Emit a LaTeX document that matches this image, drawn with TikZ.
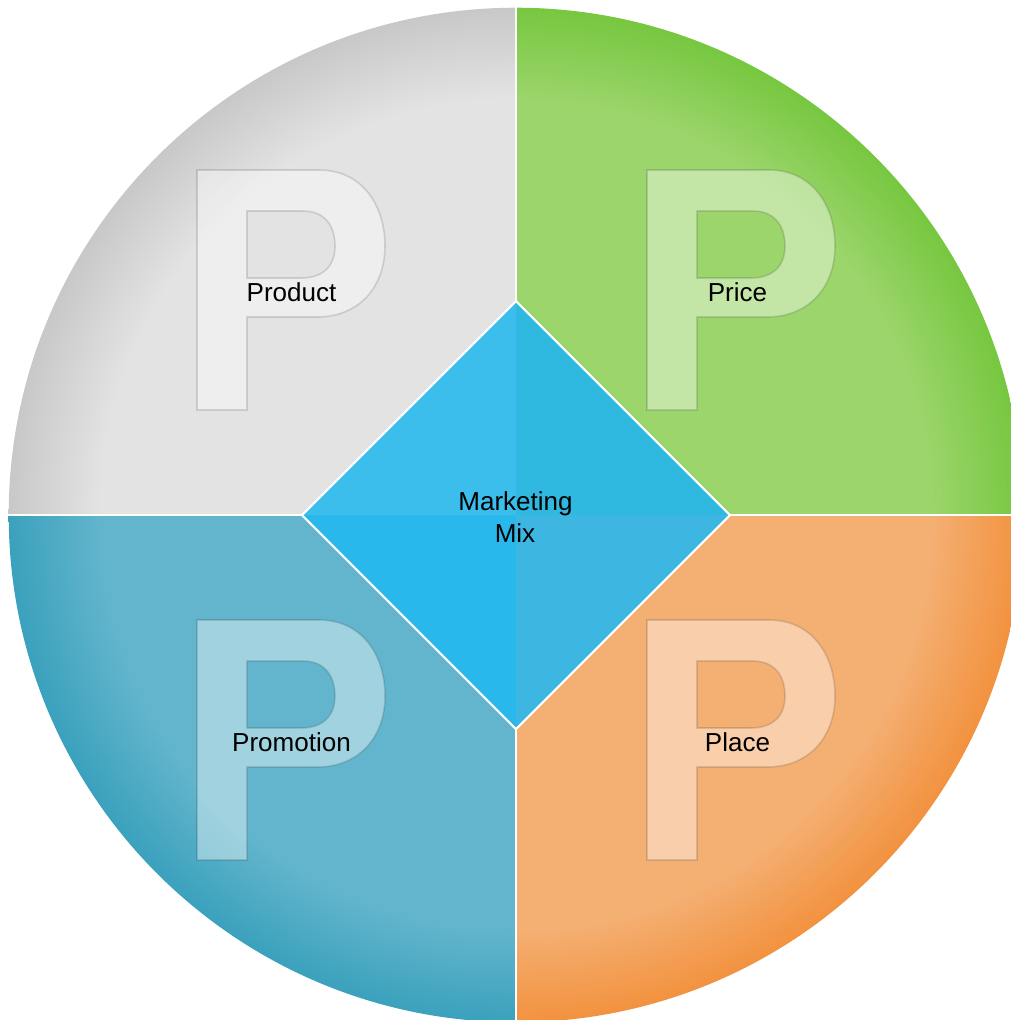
\documentclass[tikz,border=0pt]{standalone}
\usepackage{fontspec}
\setmainfont{Liberation Sans}
\definecolor{gin}{HTML}{E3E3E3}
\definecolor{gout}{HTML}{C8C8C8}
\definecolor{grin}{HTML}{9BD56B}
\definecolor{grout}{HTML}{77C740}
\definecolor{bin}{HTML}{62B5CC}
\definecolor{bout}{HTML}{3BA1BD}
\definecolor{oin}{HTML}{F4AF72}
\definecolor{oout}{HTML}{F2923F}
\definecolor{dtl}{HTML}{3BBEEC}
\definecolor{dtr}{HTML}{2FB9E1}
\definecolor{dbl}{HTML}{29B8EC}
\definecolor{dbr}{HTML}{3EB6E2}
\pgfdeclareradialshading{shgray}{\pgfpoint{0bp}{0bp}}{color(0bp)=(gin); color(20.5bp)=(gin); color(25bp)=(gout); color(50bp)=(gout)}
\pgfdeclareradialshading{shgreen}{\pgfpoint{0bp}{0bp}}{color(0bp)=(grin); color(20.5bp)=(grin); color(25bp)=(grout); color(50bp)=(grout)}
\pgfdeclareradialshading{shblue}{\pgfpoint{0bp}{0bp}}{color(0bp)=(bin); color(20.5bp)=(bin); color(25bp)=(bout); color(50bp)=(bout)}
\pgfdeclareradialshading{shorange}{\pgfpoint{0bp}{0bp}}{color(0bp)=(oin); color(20.5bp)=(oin); color(25bp)=(oout); color(50bp)=(oout)}
\tikzset{
  sep/.style={draw=white, line width=0.7pt},
  lbl/.style={font=\fontsize{7.4pt}{9.1pt}\selectfont, text=black, inner sep=0pt, anchor=base},
  bigp/.pic={
    \path[fill=white, fill opacity=0.4, draw=black, draw opacity=0.13, line width=0.45pt, even odd rule]
      (0,240) -- (0,0) -- (122,0) .. controls (165,0) and (188,35) .. (188,76)
      .. controls (188,117) and (162,147) .. (120,147) -- (50,147) -- (50,240) -- cycle
      (50,41) -- (106,41) .. controls (127,41) and (138,55) .. (138,76)
      .. controls (138,96) and (126,108) .. (104,108) -- (50,108) -- cycle;
  }
}
\begin{document}
\begin{tikzpicture}[x=0.01cm, y=-0.01cm]
\useasboundingbox (0,0) rectangle (1011,1020);
\clip (0,0) rectangle (1011,1020);
\coordinate (C) at (516,515);
\coordinate (top) at (516,0);
\coordinate (bot) at (516,1020);
\coordinate (lft) at (0,515);
\coordinate (rgt) at (1011,515);
% quadrants
\begin{scope}
  \clip (C) rectangle (0,0);
  \shade[shading=shgray] (C) circle[radius=5.07cm];
\end{scope}
\begin{scope}
  \clip (C) rectangle (1011,0);
  \shade[shading=shgreen] (C) circle[radius=5.07cm];
\end{scope}
\begin{scope}
  \clip (C) rectangle (0,1020);
  \shade[shading=shblue] (C) circle[radius=5.07cm];
\end{scope}
\begin{scope}
  \clip (C) rectangle (1011,1020);
  \shade[shading=shorange] (C) circle[radius=5.07cm];
\end{scope}
% separators
\draw[sep] (top) -- (bot);
\draw[sep] (lft) -- (rgt);
% big P letters
\pic at (197,170) {bigp};
\pic at (647,170) {bigp};
\pic at (197,620) {bigp};
\pic at (647,620) {bigp};
% diamond
\coordinate (dT) at (516,301);
\coordinate (dL) at (302,515);
\coordinate (dR) at (730,515);
\coordinate (dB) at (516,729);
\fill[dtl] (C) -- (dL) -- (dT) -- cycle;
\fill[dtr] (C) -- (dT) -- (dR) -- cycle;
\fill[dbl] (C) -- (dL) -- (dB) -- cycle;
\fill[dbr] (C) -- (dB) -- (dR) -- cycle;
\draw[white, line width=0.6pt, line join=miter] (dT) -- (dR) -- (dB) -- (dL) -- cycle;
% labels
\node[lbl] (product) at (291.5,301) {Product};
\node[lbl] (price) at (737.5,301) {Price};
\node[lbl] (promotion) at (291.5,751) {Promotion};
\node[lbl] (place) at (737.5,751) {Place};
\node[lbl] (mix1) at (515.5,510) {Marketing};
\node[lbl] (mix2) at (515,542) {Mix};
\end{tikzpicture}
\end{document}
